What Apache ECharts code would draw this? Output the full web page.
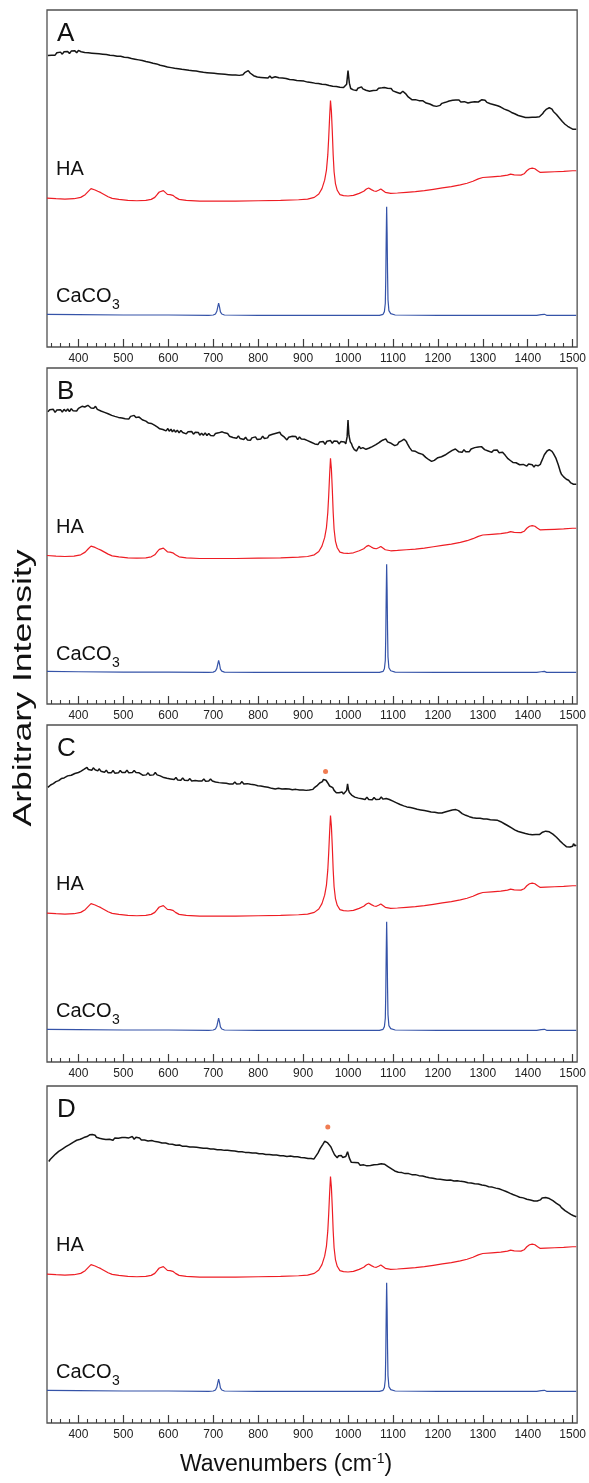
<!DOCTYPE html>
<html><head><meta charset="utf-8">
<script src="https://cdn.jsdelivr.net/npm/echarts@6/dist/echarts.min.js"></script>
<style>html,body{margin:0;padding:0;background:#fff}#c{width:589px;height:1483px}</style>
</head><body><div id="c"></div>
<script>
const panelNames = ['A','B','C','D'];
const majorTicks = [400,500,600,700,800,900,1000,1100,1200,1300,1400,1500];
const minorTicks = [340,360,380,420,440,460,480,520,540,560,580,620,640,660,680,720,740,760,780,820,840,860,880,920,940,960,980,1020,1040,1060,1080,1120,1140,1160,1180,1220,1240,1260,1280,1320,1340,1360,1380,1420,1440,1460,1480];

// Hydroxyapatite reference spectrum (same in every panel)
const haSpectrum = [[330,44.2],[350,44.0],[370,43.9],[390,44.0],[405,44.4],[415,45.2],[422,46.2],[428,47.0],[432,47.1],[437,46.6],[443,46.2],[450,45.8],[458,45.2],[466,44.6],[475,44.1],[490,43.8],[510,43.5],[530,43.4],[550,43.5],[562,43.8],[570,44.4],[576,45.4],[580,46.0],[584,45.7],[589,46.4],[593,46.0],[598,45.3],[604,45.2],[610,45.0],[616,44.4],[624,43.8],[640,43.5],[670,43.3],[700,43.3],[750,43.3],[800,43.4],[850,43.5],[890,43.7],[910,43.9],[925,44.4],[935,45.4],[942,47.0],[948,49.5],[952,52.5],[955,57],[957,62],[959,68],[961,73.1],[963,70],[965,64],[967,57],[969,52],[972,48.5],[976,46.5],[982,45.2],[990,44.9],[1000,44.8],[1012,45.0],[1025,45.6],[1035,46.2],[1041,46.9],[1046,47.2],[1052,46.7],[1058,46.3],[1063,46.2],[1068,46.5],[1073,46.9],[1077,46.4],[1083,45.9],[1095,45.6],[1110,45.7],[1130,45.9],[1150,46.1],[1170,46.4],[1190,46.8],[1210,47.2],[1230,47.6],[1250,48.1],[1265,48.6],[1278,49.2],[1290,49.9],[1300,50.3],[1320,50.5],[1340,50.7],[1355,51.0],[1362,51.3],[1370,51.1],[1385,51.0],[1392,51.4],[1398,52.3],[1404,52.9],[1410,53.1],[1416,52.9],[1422,52.3],[1428,51.8],[1440,51.9],[1460,52.0],[1480,52.1],[1500,52.3],[1508,52.3]];

// Calcium carbonate reference spectrum (same in every panel)
const caco3Spectrum = [[330,9.7],[400,9.6],[500,9.5],[600,9.5],[690,9.4],[700,9.5],[705,9.8],[708,10.6],[710,11.8],[712,13.0],[714,11.9],[716,10.4],[719,9.8],[725,9.5],[800,9.4],[900,9.4],[1000,9.4],[1070,9.4],[1078,9.7],[1081,10.5],[1083,13],[1084,20],[1085,32],[1086,41.6],[1087,34],[1088,22],[1089,14],[1091,10.8],[1095,9.9],[1105,9.5],[1200,9.4],[1300,9.4],[1420,9.4],[1430,9.6],[1434,10.0],[1437,9.7],[1442,9.4],[1508,9.4]];

const sampleA = [[332,86.5],[336,87.0],[340,86.6],[344,87.1],[348,86.6],[352,87.3],[356,87.0],[360,87.5],[364,86.9],[368,87.6],[372,87.2],[376,87.7],[380,87.1],[384,87.8],[388,87.4],[392,87.9],[396,87.3],[400,88.0],[403,88.4],[406,87.6],[410,87.9],[414,87.4],[418,87.9],[422,87.3],[426,87.7],[430,87.2],[434,87.7],[438,87.1],[442,87.5],[446,87.0],[450,87.5],[454,86.9],[458,87.3],[462,86.8],[466,87.2],[470,86.6],[474,87.0],[478,86.5],[482,86.9],[486,86.3],[490,86.7],[494,86.3],[498,86.7],[502,86.0],[506,86.3],[510,85.9],[514,86.3],[518,85.6],[522,85.9],[526,85.4],[530,85.9],[534,85.2],[538,85.5],[542,85.0],[546,85.4],[550,84.7],[554,85.0],[558,84.5],[562,84.9],[566,84.2],[570,84.5],[574,84.0],[578,84.3],[582,83.6],[586,83.9],[590,83.4],[594,83.8],[598,83.1],[602,83.4],[606,82.9],[610,83.4],[614,82.7],[618,83.0],[622,82.6],[626,83.1],[630,82.4],[634,82.7],[638,82.3],[642,82.8],[646,82.1],[650,82.4],[654,82.0],[658,82.5],[662,81.9],[666,82.2],[670,81.7],[674,82.1],[678,81.5],[682,81.8],[686,81.4],[690,81.9],[694,81.3],[698,81.6],[702,81.2],[706,81.7],[710,81.1],[714,81.4],[718,81.0],[722,81.5],[726,80.9],[730,81.2],[734,80.8],[738,81.3],[742,80.7],[746,81.0],[750,80.7],[754,81.2],[758,80.6],[762,80.9],[766,80.8],[770,81.4],[774,81.6],[778,82.0],[782,81.3],[786,81.1],[790,80.5],[794,80.7],[798,80.1],[802,80.4],[806,80.0],[810,80.5],[814,79.9],[818,80.2],[822,79.8],[826,80.4],[830,79.8],[834,80.1],[838,80.2],[842,80.5],[846,79.9],[850,80.2],[854,79.8],[858,80.3],[862,79.7],[866,79.9],[870,79.4],[874,79.8],[878,79.3],[882,79.5],[886,79.1],[890,79.6],[894,79.0],[898,79.3],[902,78.9],[906,79.2],[910,78.6],[914,78.9],[918,78.5],[922,79.0],[926,78.3],[930,78.6],[934,78.2],[938,78.7],[942,78.0],[946,78.3],[950,77.9],[954,78.3],[958,77.6],[962,77.9],[966,77.4],[970,77.8],[974,77.3],[978,77.6],[982,77.1],[986,77.5],[990,77.0],[994,77.3],[997,78.0],[1000,82.0],[1003,78.3],[1006,76.7],[1009,76.9],[1012,76.3],[1016,76.7],[1019,76.1],[1022,76.8],[1025,76.5],[1030,77.2],[1033,76.6],[1036,76.8],[1040,76.2],[1044,76.6],[1048,75.9],[1052,76.3],[1056,76.1],[1060,76.6],[1064,76.2],[1068,76.8],[1072,76.3],[1076,76.9],[1081,77.0],[1084,76.5],[1088,76.8],[1092,76.3],[1096,76.7],[1100,76.0],[1104,76.2],[1108,75.6],[1112,75.8],[1116,75.2],[1119,75.3],[1122,75.9],[1125,75.8],[1128,75.2],[1131,74.9],[1134,74.2],[1138,73.8],[1142,73.4],[1146,73.8],[1150,73.4],[1154,73.8],[1158,73.1],[1162,73.5],[1166,73.1],[1170,72.9],[1174,72.4],[1178,72.7],[1182,72.1],[1186,72.2],[1190,71.6],[1194,71.8],[1197,71.4],[1201,71.9],[1205,71.7],[1209,72.3],[1213,72.0],[1217,72.6],[1221,72.4],[1225,73.0],[1229,72.6],[1233,73.2],[1237,72.8],[1240,73.3],[1243,73.0],[1247,73.3],[1251,72.7],[1255,73.1],[1259,72.8],[1263,72.9],[1267,72.4],[1271,72.9],[1274,72.6],[1278,73.1],[1282,72.8],[1286,73.2],[1290,72.7],[1294,73.1],[1298,73.4],[1302,72.9],[1305,73.2],[1309,72.6],[1313,72.8],[1317,72.2],[1321,72.5],[1325,71.9],[1329,72.2],[1333,71.6],[1336,71.9],[1340,71.2],[1344,71.4],[1348,70.6],[1352,70.9],[1356,70.2],[1360,70.4],[1364,69.6],[1367,69.8],[1371,69.2],[1375,69.4],[1379,68.7],[1383,69.0],[1387,68.4],[1391,68.7],[1395,68.1],[1398,68.4],[1402,68.1],[1406,68.6],[1410,68.2],[1414,68.5],[1418,68.2],[1422,68.6],[1426,68.3],[1429,68.8],[1433,69.2],[1436,69.8],[1440,70.1],[1442,70.6],[1445,70.5],[1448,71.0],[1451,70.5],[1454,70.6],[1457,69.9],[1460,69.8],[1464,69.0],[1467,68.8],[1470,68.0],[1474,67.7],[1477,66.9],[1480,66.9],[1483,66.1],[1486,66.2],[1489,65.5],[1492,65.6],[1495,65.0],[1498,65.2],[1501,64.6],[1504,64.9],[1508,64.6]];

const sampleB = [[332,87.0],[336,87.6],[340,87.2],[344,87.7],[348,86.8],[352,87.5],[356,87.0],[360,87.6],[364,86.9],[368,87.7],[372,87.1],[376,87.8],[380,87.0],[384,87.9],[388,87.3],[392,87.8],[396,87.2],[400,88.0],[404,87.6],[408,88.6],[411,89.1],[414,88.4],[418,88.2],[421,88.9],[425,88.6],[428,88.1],[431,88.4],[434,88.0],[438,88.6],[442,87.7],[446,88.0],[450,87.2],[454,87.6],[458,86.8],[462,87.1],[466,86.4],[470,86.7],[474,85.9],[477,86.2],[481,85.6],[485,86.0],[489,85.3],[493,85.6],[497,85.1],[500,85.6],[504,84.9],[508,85.3],[512,84.8],[516,85.6],[520,85.2],[524,85.9],[528,85.3],[532,85.8],[535,85.4],[539,85.1],[542,84.6],[546,84.9],[550,84.2],[553,84.4],[556,83.6],[559,84.1],[562,83.5],[566,83.6],[570,82.9],[573,83.2],[576,82.4],[579,82.6],[581,81.9],[585,82.3],[588,81.7],[592,82.1],[595,81.3],[599,82.0],[602,81.2],[606,81.8],[609,81.0],[613,81.6],[616,80.9],[620,81.5],[624,80.7],[628,81.4],[632,80.8],[636,81.2],[640,80.4],[644,81.0],[648,80.5],[652,81.1],[656,80.3],[660,80.9],[663,80.4],[667,80.8],[670,80.0],[674,80.6],[678,80.0],[682,80.7],[686,79.9],[690,80.5],[694,79.9],[698,80.4],[701,79.8],[705,80.5],[708,80.1],[712,80.7],[716,80.4],[720,81.0],[725,80.7],[728,80.2],[732,80.5],[736,79.7],[740,80.1],[744,79.3],[748,79.7],[752,79.1],[756,79.8],[760,79.0],[764,79.4],[768,78.7],[772,79.4],[776,78.6],[779,79.0],[783,78.5],[786,79.2],[790,78.8],[794,79.5],[798,78.7],[802,79.2],[806,78.9],[810,79.7],[814,79.0],[817,79.5],[821,79.2],[824,79.9],[828,79.5],[832,80.3],[836,79.9],[840,80.6],[844,80.2],[848,80.9],[851,80.2],[854,80.5],[857,79.6],[860,79.8],[864,78.6],[868,79.4],[872,78.9],[876,79.7],[880,79.2],[884,79.6],[888,78.7],[892,79.5],[896,78.9],[900,79.4],[903,78.8],[907,79.1],[910,78.4],[914,78.7],[918,77.9],[922,78.2],[926,77.4],[930,77.8],[933,77.2],[937,78.0],[941,77.6],[945,78.1],[949,77.3],[953,78.2],[957,77.8],[961,78.4],[965,77.6],[969,78.3],[972,77.8],[976,78.2],[980,77.4],[984,78.1],[988,77.6],[992,78.0],[995,77.4],[998,79.5],[1000,84.5],[1002,80.0],[1005,78.0],[1008,77.4],[1010,76.6],[1012,76.9],[1014,75.7],[1017,76.0],[1019,75.3],[1022,76.1],[1025,76.7],[1028,76.0],[1030,75.6],[1033,76.3],[1036,76.6],[1040,75.8],[1043,75.4],[1046,76.1],[1050,76.0],[1054,76.6],[1058,76.5],[1062,77.2],[1066,77.2],[1070,77.9],[1073,77.8],[1077,78.5],[1081,78.4],[1084,78.9],[1088,78.0],[1092,78.3],[1096,77.6],[1100,77.6],[1104,76.9],[1107,77.4],[1110,77.2],[1113,77.9],[1116,77.6],[1119,78.3],[1122,78.3],[1125,78.8],[1127,78.6],[1130,78.1],[1132,77.5],[1135,77.0],[1137,76.3],[1140,75.9],[1142,75.4],[1146,75.8],[1150,75.2],[1154,75.3],[1158,74.6],[1162,74.9],[1166,74.3],[1170,74.0],[1173,73.4],[1177,73.4],[1180,72.7],[1183,72.9],[1186,72.2],[1189,71.9],[1192,72.5],[1196,72.6],[1200,73.3],[1204,73.0],[1208,73.6],[1212,73.5],[1216,74.1],[1220,74.0],[1224,74.8],[1228,74.8],[1232,75.5],[1235,75.2],[1239,75.9],[1242,75.5],[1246,75.1],[1250,75.4],[1254,74.9],[1258,75.7],[1262,75.1],[1266,75.6],[1270,75.1],[1274,75.9],[1278,75.7],[1282,76.3],[1286,75.9],[1290,76.5],[1294,76.0],[1297,76.6],[1301,76.2],[1304,75.7],[1308,75.9],[1312,75.3],[1316,75.6],[1320,74.9],[1324,75.5],[1328,75.2],[1332,75.6],[1336,74.8],[1340,75.3],[1344,74.9],[1347,74.6],[1350,74.0],[1353,73.7],[1356,73.0],[1359,73.0],[1362,72.4],[1365,72.6],[1367,71.9],[1371,72.3],[1374,71.8],[1378,71.7],[1382,71.2],[1386,71.7],[1390,71.3],[1394,71.5],[1398,70.8],[1402,71.4],[1406,71.0],[1410,71.2],[1414,70.5],[1417,71.1],[1420,70.7],[1423,70.9],[1425,70.5],[1428,71.3],[1430,72.0],[1434,73.2],[1437,74.2],[1440,74.5],[1443,75.3],[1446,75.4],[1448,75.7],[1451,75.3],[1454,75.2],[1457,74.6],[1460,74.2],[1463,73.1],[1465,72.6],[1468,71.2],[1470,70.3],[1473,69.0],[1475,68.4],[1478,68.1],[1480,67.6],[1483,67.9],[1486,66.9],[1489,67.1],[1491,66.6],[1494,66.5],[1496,65.8],[1499,66.0],[1502,65.4],[1505,65.8],[1508,65.4]];

const sampleC = [[332,81.5],[335,81.8],[338,82.2],[341,82.1],[344,82.6],[347,82.6],[350,83.2],[353,83.0],[356,83.5],[359,83.6],[362,84.1],[365,83.9],[368,84.3],[372,84.3],[376,84.9],[380,84.6],[384,85.1],[388,84.9],[392,85.6],[396,85.3],[400,85.9],[403,85.7],[406,86.3],[409,86.0],[412,86.8],[416,86.5],[419,87.4],[422,86.8],[426,87.1],[430,86.6],[433,87.3],[437,86.7],[440,86.9],[443,86.4],[446,87.0],[450,86.3],[454,86.5],[458,86.0],[462,86.6],[466,85.8],[469,86.1],[473,85.8],[477,86.5],[481,85.7],[485,86.1],[489,85.8],[493,86.5],[497,85.9],[500,86.3],[504,85.9],[508,86.6],[512,85.8],[516,86.1],[520,85.9],[524,86.5],[528,85.9],[531,86.4],[535,85.8],[539,85.8],[543,85.1],[547,85.4],[551,85.2],[555,85.8],[559,85.1],[563,85.5],[567,85.2],[571,85.9],[575,85.2],[578,85.7],[582,84.9],[586,85.0],[590,84.4],[593,84.7],[597,84.2],[601,84.6],[605,84.0],[609,84.2],[613,83.8],[617,84.4],[621,83.7],[624,84.1],[628,83.6],[632,84.3],[636,83.6],[640,83.9],[644,83.5],[648,84.1],[652,83.4],[656,83.8],[660,83.5],[663,84.0],[667,83.4],[671,83.8],[675,83.4],[679,84.0],[683,83.3],[687,83.7],[690,83.4],[694,84.0],[698,83.4],[701,83.8],[705,83.1],[709,83.5],[713,82.9],[717,83.3],[721,82.8],[725,83.1],[729,82.7],[732,83.2],[736,82.5],[740,82.8],[744,82.5],[748,83.1],[752,82.5],[756,82.9],[760,82.6],[764,83.2],[768,82.5],[772,82.9],[776,82.6],[779,83.1],[783,82.4],[787,82.7],[791,82.3],[795,82.8],[799,82.0],[803,82.3],[806,81.9],[810,82.4],[814,81.7],[818,82.0],[822,81.5],[826,81.9],[830,81.2],[834,81.6],[838,81.0],[841,81.4],[845,81.2],[849,81.7],[853,81.0],[857,81.3],[861,81.1],[865,81.6],[869,81.0],[872,81.4],[876,80.8],[880,81.2],[884,80.9],[888,81.4],[892,80.7],[896,81.0],[900,80.7],[903,81.1],[907,80.6],[910,81.0],[914,80.7],[918,81.2],[922,80.9],[926,81.5],[929,81.6],[932,82.1],[935,82.3],[937,82.8],[939,82.7],[941,83.3],[943,83.2],[945,83.8],[947,83.7],[949,84.1],[951,83.6],[953,83.6],[955,82.8],[957,82.6],[959,81.9],[961,82.0],[963,81.4],[966,81.4],[969,80.6],[971,80.6],[974,79.9],[976,80.1],[978,79.6],[980,79.9],[983,79.6],[987,80.1],[990,79.5],[994,79.7],[997,80.6],[999,82.5],[1001,80.8],[1003,80.0],[1005,79.8],[1008,79.2],[1012,79.3],[1015,78.6],[1019,78.6],[1023,78.3],[1027,78.8],[1031,78.1],[1035,78.4],[1038,77.9],[1042,78.6],[1046,77.9],[1050,78.2],[1054,77.8],[1058,78.5],[1062,77.9],[1066,78.3],[1070,78.0],[1074,78.6],[1078,78.0],[1081,78.4],[1085,78.2],[1088,78.6],[1092,77.9],[1096,78.0],[1100,77.4],[1104,77.4],[1108,76.9],[1112,77.0],[1116,76.4],[1120,76.7],[1124,76.0],[1127,76.2],[1131,75.7],[1135,76.0],[1139,75.5],[1142,75.8],[1146,75.3],[1150,75.7],[1154,75.0],[1158,75.3],[1162,74.8],[1166,75.2],[1170,74.6],[1174,74.9],[1178,74.4],[1181,74.8],[1185,74.2],[1189,74.6],[1193,74.1],[1197,74.5],[1201,73.9],[1205,74.3],[1209,73.9],[1212,74.3],[1216,74.2],[1220,74.6],[1224,74.5],[1228,74.9],[1232,74.8],[1236,75.3],[1240,74.9],[1243,75.2],[1246,74.6],[1250,74.4],[1254,73.7],[1258,73.8],[1262,73.2],[1266,73.5],[1270,72.8],[1274,73.0],[1278,72.5],[1282,72.9],[1286,72.3],[1290,72.6],[1294,72.3],[1298,72.8],[1302,72.1],[1305,72.5],[1309,72.1],[1313,72.6],[1317,71.9],[1321,72.2],[1325,71.8],[1329,72.3],[1333,71.7],[1336,72.0],[1340,71.3],[1344,71.4],[1348,70.7],[1352,70.8],[1356,70.1],[1360,70.2],[1364,69.5],[1367,69.6],[1371,68.9],[1375,69.2],[1379,68.4],[1383,68.6],[1387,68.1],[1391,68.4],[1395,67.8],[1398,68.1],[1402,67.6],[1406,68.0],[1410,67.4],[1414,67.8],[1418,67.5],[1422,68.0],[1426,67.5],[1429,67.9],[1433,68.2],[1436,68.6],[1440,68.5],[1444,68.9],[1448,68.3],[1452,68.4],[1456,67.6],[1460,67.6],[1464,66.7],[1467,66.7],[1471,65.7],[1475,65.6],[1479,64.7],[1483,64.6],[1486,63.9],[1490,64.2],[1494,63.8],[1498,64.3],[1500,64.0],[1502,64.8],[1505,64.1],[1508,64.4]];

const sampleD = [[334,77.6],[337,78.2],[340,78.4],[343,79.0],[346,79.1],[349,79.8],[353,79.9],[356,80.6],[360,80.6],[364,81.3],[368,81.3],[372,82.0],[376,81.9],[380,82.6],[384,82.5],[388,83.3],[392,83.2],[396,83.9],[400,83.5],[404,84.2],[408,84.0],[412,84.7],[415,84.3],[419,85.0],[422,84.7],[425,85.5],[428,85.2],[431,85.6],[434,85.1],[437,85.4],[440,84.8],[444,85.1],[447,84.5],[451,84.9],[454,84.3],[458,84.7],[461,84.1],[465,84.6],[469,84.2],[473,84.5],[477,83.9],[481,84.6],[485,84.2],[489,84.5],[493,84.0],[497,84.7],[500,84.3],[504,84.7],[508,84.2],[512,84.6],[516,84.7],[520,85.0],[524,84.2],[528,84.8],[532,84.4],[536,84.6],[540,84.0],[544,84.4],[547,84.0],[551,84.3],[555,83.7],[559,84.2],[563,83.8],[567,84.1],[571,83.5],[575,83.9],[578,83.4],[582,83.7],[586,83.1],[590,83.5],[594,83.1],[598,83.3],[601,82.8],[605,83.2],[609,82.7],[613,83.0],[617,82.4],[621,82.8],[625,82.5],[628,82.7],[632,82.1],[636,82.5],[640,82.1],[644,82.4],[648,81.9],[652,82.3],[655,81.9],[659,82.2],[663,81.8],[667,82.1],[670,81.7],[674,82.0],[678,81.5],[682,81.9],[686,81.5],[690,81.8],[694,81.3],[698,81.7],[701,81.3],[705,81.6],[709,81.1],[713,81.5],[717,81.1],[721,81.4],[725,80.9],[729,81.3],[732,80.9],[736,81.2],[740,80.8],[744,81.1],[748,80.7],[752,81.0],[756,80.5],[760,80.9],[764,80.5],[768,80.8],[771,80.3],[775,80.7],[779,80.3],[783,80.6],[787,80.1],[791,80.5],[795,80.1],[799,80.4],[802,79.9],[806,80.3],[810,79.9],[814,80.2],[817,79.7],[821,80.1],[825,79.7],[829,80.0],[833,79.5],[837,79.9],[841,79.5],[845,79.8],[849,79.3],[853,79.7],[856,79.3],[860,79.6],[864,79.1],[868,79.5],[872,79.2],[876,79.4],[880,79.0],[884,79.4],[888,79.0],[892,79.3],[895,78.8],[899,79.2],[903,78.7],[907,79.0],[911,78.5],[915,78.9],[918,78.5],[921,78.8],[924,78.3],[927,78.9],[930,79.3],[933,80.1],[935,80.5],[938,81.4],[941,81.9],[944,82.7],[946,82.8],[948,83.6],[950,83.6],[952,83.9],[954,83.2],[956,83.3],[958,82.6],[960,82.6],[962,81.9],[964,81.6],[966,80.7],[968,80.4],[970,79.6],[973,79.4],[976,78.7],[979,79.3],[982,79.0],[985,79.4],[988,78.8],[991,79.2],[995,79.1],[999,80.5],[1003,78.6],[1005,78.1],[1007,77.4],[1009,77.5],[1011,76.9],[1015,77.3],[1019,76.8],[1023,77.2],[1027,76.5],[1031,77.0],[1035,76.6],[1039,77.0],[1042,76.3],[1046,76.8],[1050,76.4],[1054,76.9],[1058,76.6],[1062,77.1],[1066,76.7],[1070,77.2],[1074,76.9],[1078,77.3],[1081,76.8],[1085,76.7],[1089,76.1],[1093,76.0],[1097,75.4],[1100,75.4],[1104,74.8],[1108,74.9],[1112,74.4],[1116,74.8],[1120,74.3],[1124,74.6],[1127,74.0],[1131,74.5],[1135,74.0],[1139,74.2],[1142,73.7],[1146,74.1],[1150,73.7],[1154,74.0],[1158,73.4],[1162,73.8],[1166,73.3],[1170,73.5],[1174,73.0],[1178,73.4],[1181,72.8],[1185,73.1],[1189,72.6],[1193,72.9],[1197,72.4],[1201,72.8],[1205,72.3],[1209,72.7],[1212,72.2],[1216,72.5],[1220,72.0],[1224,72.5],[1228,72.1],[1232,72.3],[1236,71.8],[1240,72.3],[1243,71.9],[1247,72.2],[1251,71.7],[1255,72.0],[1259,71.6],[1263,71.8],[1267,71.3],[1271,71.6],[1274,71.2],[1278,71.5],[1282,71.0],[1286,71.4],[1290,70.9],[1294,71.1],[1298,70.6],[1302,70.9],[1305,70.5],[1309,70.6],[1313,70.1],[1317,70.4],[1321,70.0],[1325,70.2],[1329,69.7],[1333,69.9],[1336,69.5],[1340,69.5],[1344,69.1],[1348,69.1],[1352,68.7],[1356,68.7],[1360,68.2],[1364,68.3],[1367,67.8],[1371,67.9],[1375,67.4],[1379,67.5],[1382,67.0],[1386,67.2],[1390,66.8],[1394,67.0],[1398,66.4],[1402,66.7],[1406,66.2],[1410,66.4],[1414,65.9],[1418,66.2],[1421,65.9],[1425,66.4],[1428,66.2],[1432,66.8],[1436,66.6],[1440,66.9],[1444,66.5],[1448,66.6],[1452,66.1],[1456,66.0],[1460,65.5],[1464,65.2],[1467,64.8],[1471,64.6],[1475,63.9],[1479,63.7],[1483,63.0],[1486,62.8],[1490,62.4],[1493,62.3],[1496,61.9],[1499,61.9],[1502,61.5],[1505,61.5],[1508,61.2]];

const sampleTraces = [sampleA, sampleB, sampleC, sampleD];
// marker dots above the ~950 band (panels C and D)
const markerDots = [null, null, [[950,86.2]], [[955,87.8]]];

const layout = [{top:10,height:337},{top:368,height:336},{top:725,height:337},{top:1086,height:337}];
const LEFT = 47, RIGHT = 9;
const FONT = '"Liberation Sans", Arial, Helvetica, sans-serif';
const tickColor = '#3c3c3c';

const grids = [], xAxes = [], yAxes = [], series = [], graphics = [];
layout.forEach((p, i) => {
  grids.push({left: LEFT, right: RIGHT, top: p.top, height: p.height, show: true,
    borderColor: '#505050', borderWidth: 1.3, backgroundColor: 'transparent'});
  xAxes.push({gridIndex: i, type: 'value', min: 330, max: 1510, position: 'bottom',
    axisLine: {show: false}, splitLine: {show: false},
    axisTick: {show: true, inside: true, length: 8, customValues: majorTicks, lineStyle: {color: tickColor, width: 1.2}},
    axisLabel: {show: true, customValues: majorTicks, formatter: v => String(v), fontSize: 12, color: '#222', margin: 6, fontFamily: FONT}});
  xAxes.push({gridIndex: i, type: 'value', min: 330, max: 1510, position: 'bottom',
    axisLine: {show: false}, splitLine: {show: false},
    axisTick: {show: true, inside: true, length: 4, customValues: minorTicks, lineStyle: {color: tickColor, width: 1.1}},
    axisLabel: {show: false}});
  yAxes.push({gridIndex: i, type: 'value', min: 0, max: 100, show: false});
  const base = {type: 'line', xAxisIndex: 2*i, yAxisIndex: i, showSymbol: false, symbol: 'none', silent: true, animation: false};
  series.push(Object.assign({}, base, {data: sampleTraces[i], lineStyle: {color: '#151515', width: 1.5}}));
  series.push(Object.assign({}, base, {data: haSpectrum, lineStyle: {color: '#ee1d24', width: 1.2}}));
  series.push(Object.assign({}, base, {data: caco3Spectrum, lineStyle: {color: '#3553a8', width: 1.2}}));
  if (markerDots[i]) {
    series.push({type: 'scatter', xAxisIndex: 2*i, yAxisIndex: i, data: markerDots[i], symbolSize: 5,
      itemStyle: {color: '#ec5b27'}, silent: true, animation: false});
  }
  const T = p.top;
  graphics.push({type: 'text', left: 57, top: T + 10.5, style: {text: panelNames[i], fontSize: 26, fontFamily: FONT, fill: '#111'}});
  graphics.push({type: 'text', left: 56, top: T + 149.6, style: {text: 'HA', fontSize: 20, fontFamily: FONT, fill: '#111'}});
  graphics.push({type: 'text', left: 56, top: T + 276.6, style: {text: 'CaCO', fontSize: 20, fontFamily: FONT, fill: '#111'}});
  graphics.push({type: 'text', left: 112, top: T + 288, style: {text: '3', fontSize: 14, fontFamily: FONT, fill: '#111'}});
});

graphics.push({type: 'text', x: 24, y: 688, rotation: Math.PI / 2, scaleX: 1.37,
  style: {text: 'Arbitrary Intensity', fontSize: 26, fontFamily: FONT, fill: '#111', align: 'center', verticalAlign: 'middle'}});
graphics.push({type: 'text', x: 286, y: 1463,
  style: {text: '{a|Wavenumbers (cm}{b|-1}{a|)}', fontFamily: FONT, fill: '#111', align: 'center', verticalAlign: 'middle',
    rich: {a: {fontSize: 23, lineHeight: 26, fontFamily: FONT, fill: '#111', verticalAlign: 'bottom'},
           b: {fontSize: 14, lineHeight: 26, fontFamily: FONT, fill: '#111', verticalAlign: 'top', padding: [2,0,0,0]}}}});

const chart = echarts.init(document.getElementById('c'), null, {renderer: 'canvas'});
chart.setOption({animation: false, grid: grids, xAxis: xAxes, yAxis: yAxes, series: series, graphic: graphics});
</script></body></html>
